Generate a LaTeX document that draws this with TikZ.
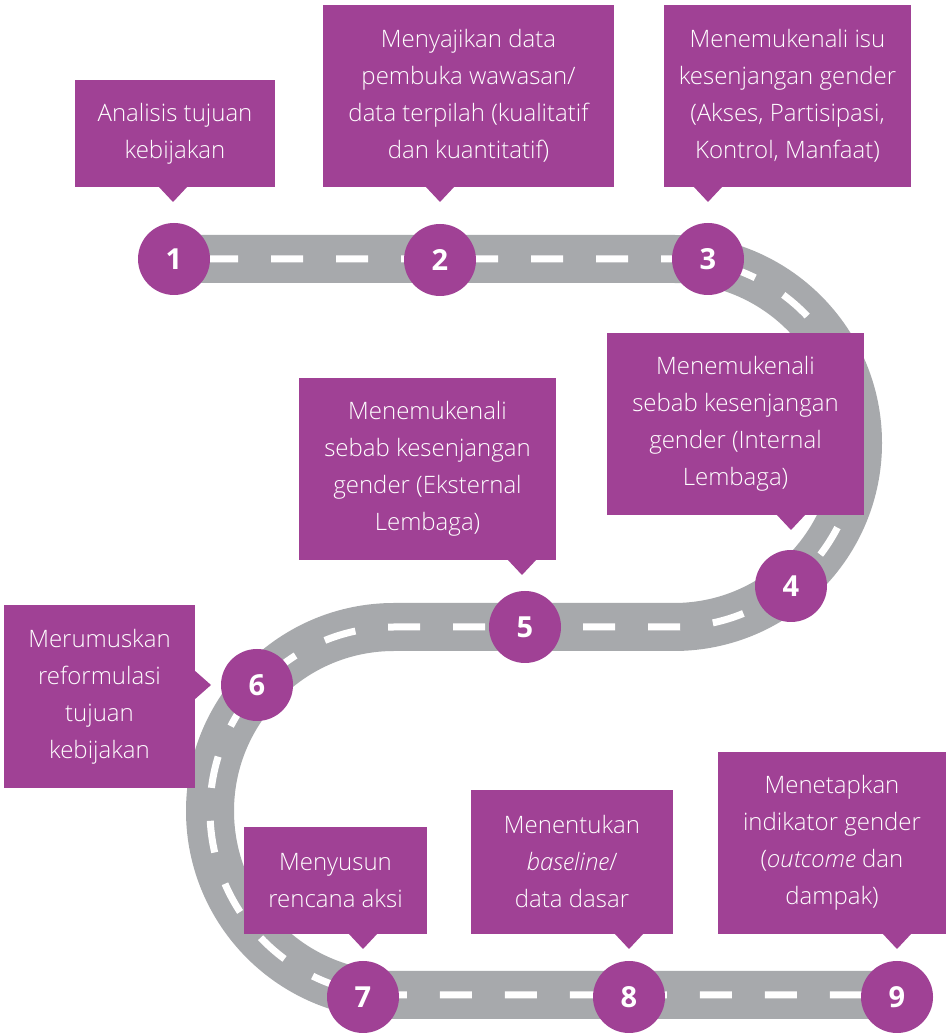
\documentclass[tikz,border=0pt]{standalone}
\usepackage{fontspec}
\setmainfont{Open Sans}
\newfontfamily\lightfont{Open Sans Light}
\definecolor{purp}{HTML}{A04195}
\definecolor{roadgray}{HTML}{A7A9AC}
\begin{document}
\begin{tikzpicture}[x=1pt,y=1pt,
  callout/.style={fill=purp, text=white, inner sep=0pt, align=center,
    font=\lightfont\fontsize{24}{37}\selectfont},
  num/.style={circle, fill=purp, text=white, inner sep=0pt, minimum size=72pt,
    font=\fontsize{29}{29}\selectfont\bfseries},
  pointer/.style={fill=purp}]
\fill[white] (0,0) rectangle (949,1033);
\useasboundingbox (0,0) rectangle (949,1033);
% road
\draw[roadgray, line width=48pt] (172,774) -- (674,774)
  arc[start angle=90, end angle=-90, radius=184] -- (394,406)
  arc[start angle=90, end angle=270, radius=184] -- (880,38);
\draw[white, line width=7pt, dash pattern=on 32pt off 33pt, dash phase=31pt]
  (172,774) -- (674,774)
  arc[start angle=90, end angle=-90, radius=184] -- (394,406)
  arc[start angle=90, end angle=270, radius=184] -- (880,38);
% callouts
\node[callout, minimum width=200pt, minimum height=107pt] (c1) at (175,899.5)
  {Analisis tujuan\\kebijakan};
\fill[pointer] (158,847) -- (173,831) -- (188,847) -- cycle;
\node[callout, minimum width=291pt, minimum height=182pt] (c2) at (468.5,937)
  {Menyajikan data\\pembuka wawasan/\\data terpilah (kualitatif\\dan kuantitatif)};
\fill[pointer] (425,847) -- (440,831) -- (455,847) -- cycle;
\node[callout, minimum width=247pt, minimum height=182pt] (c3) at (787.5,937)
  {Menemukenali isu\\kesenjangan gender\\(Akses, Partisipasi,\\Kontrol, Manfaat)};
\fill[pointer] (693,847) -- (708,831) -- (723,847) -- cycle;
\node[callout, minimum width=257pt, minimum height=182pt] (c4) at (735.5,609)
  {Menemukenali\\sebab kesenjangan\\gender (Internal\\Lembaga)};
\fill[pointer] (776,519) -- (791,503) -- (806,519) -- cycle;
\node[callout, minimum width=257pt, minimum height=182pt] (c5) at (427.5,564)
  {Menemukenali\\sebab kesenjangan\\gender (Eksternal\\Lembaga)};
\fill[pointer] (507,474) -- (522,458) -- (537,474) -- cycle;
\node[callout, minimum width=191pt, minimum height=183pt] (c6) at (99.5,336.5)
  {Merumuskan\\reformulasi\\tujuan\\kebijakan};
\fill[pointer] (194,363) -- (211,348) -- (194,333) -- cycle;
\node[callout, minimum width=183pt, minimum height=107pt] (c7) at (335.5,152.5)
  {Menyusun\\rencana aksi};
\fill[pointer] (348,100) -- (363,84) -- (378,100) -- cycle;
\node[callout, minimum width=202pt, minimum height=144pt] (c8) at (572,171)
  {Menentukan\\\textit{baseline}/\\data dasar};
\fill[pointer] (614,100) -- (629,84) -- (644,100) -- cycle;
\node[callout, minimum width=228pt, minimum height=182pt] (c9) at (832,190)
  {Menetapkan\\indikator gender\\(\textit{outcome} dan\\dampak)};
\fill[pointer] (882,100) -- (897,84) -- (912,100) -- cycle;
% numbered circles
\node[num] (n1) at (174,774) {1};
\node[num] (n2) at (440,773) {2};
\node[num] (n3) at (708,774) {3};
\node[num] (n4) at (791,447) {4};
\node[num] (n5) at (525,406) {5};
\node[num] (n6) at (257,348) {6};
\node[num] (n7) at (363,36) {7};
\node[num] (n8) at (629,36) {8};
\node[num] (n9) at (897,36) {9};
\end{tikzpicture}
\end{document}
